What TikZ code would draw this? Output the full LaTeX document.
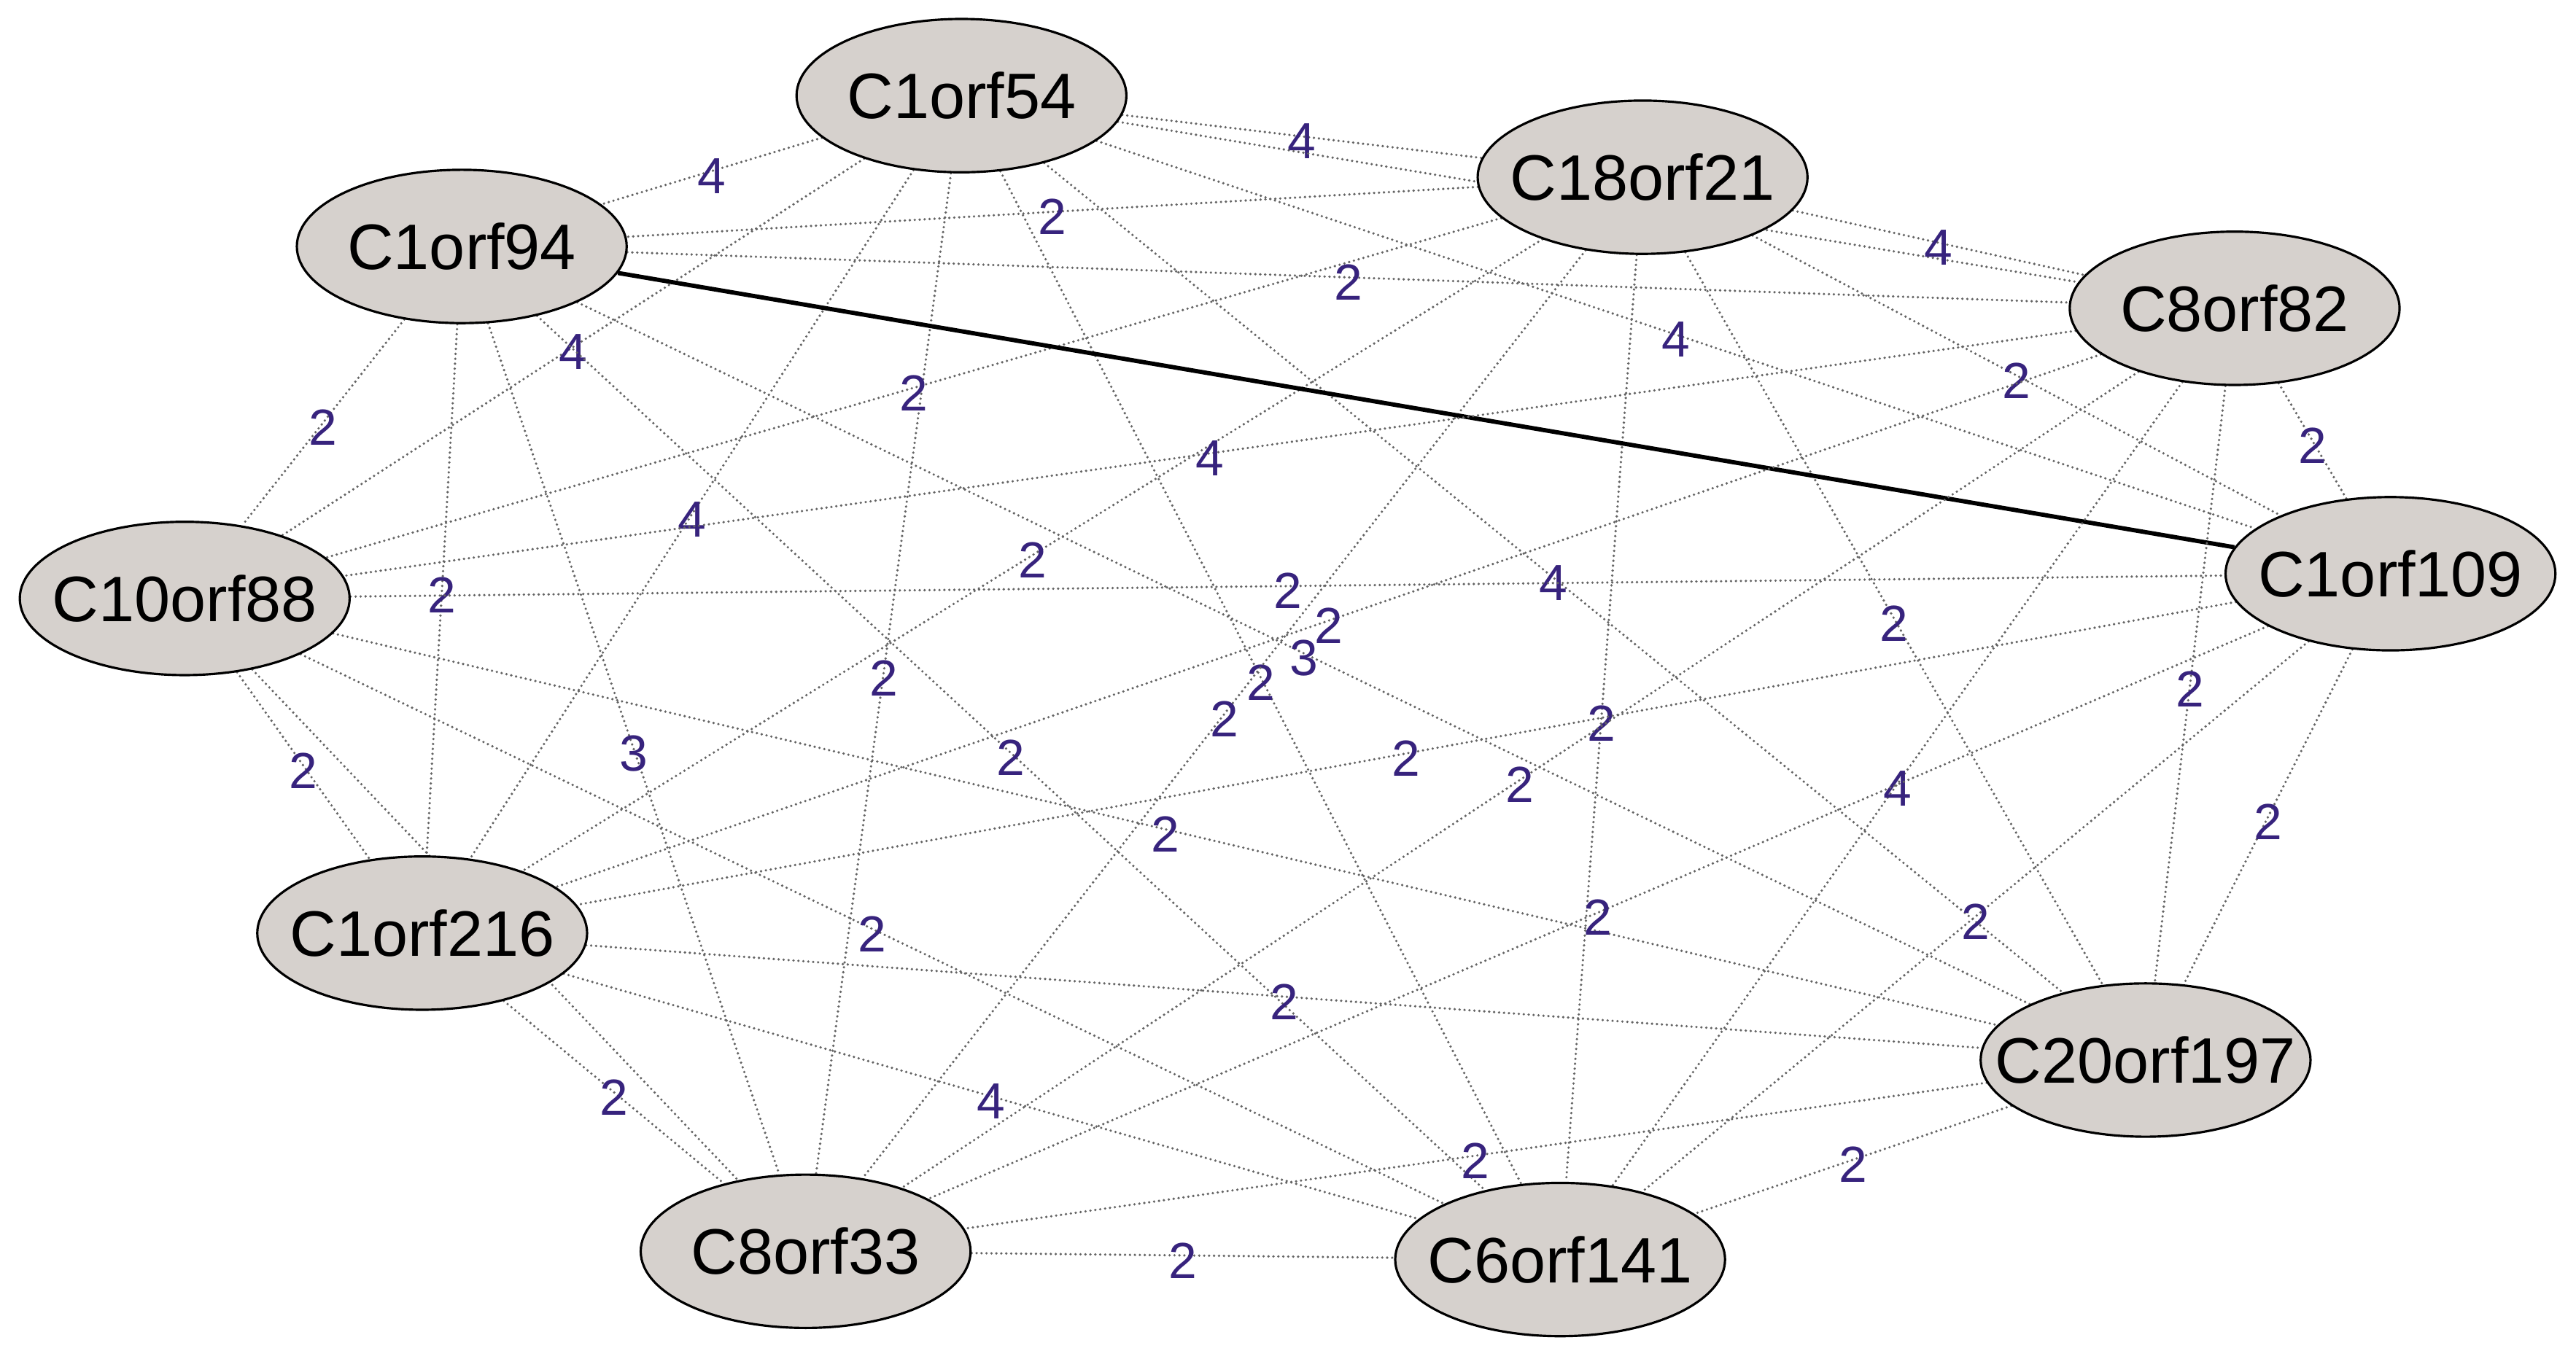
\documentclass[tikz,border=0pt]{standalone}
\usepackage{fontspec}
\setmainfont{Liberation Sans}
\usetikzlibrary{shapes.geometric,backgrounds}
\definecolor{nodefill}{RGB}{214,209,205}
\definecolor{edgegray}{RGB}{100,100,100}
\definecolor{labcol}{RGB}{55,35,125}
\newcommand{\gname}[1]{\makebox[0pt]{#1}}
\tikzset{
  gene/.style={ellipse,draw=black,line width=0.7pt,fill=nodefill,
    minimum width=100pt,minimum height=46.5pt,inner sep=0pt,
    font=\fontsize{19.5}{22}\selectfont},
  edge/.style={draw=edgegray,line width=0.8pt,line cap=round,
    dash pattern=on 0pt off 1.5pt},
  strong/.style={draw=black,line width=1.3pt},
  lab/.style={text=labcol,font=\fontsize{15.4}{17}\selectfont,inner sep=0pt,yshift=-1.5pt}
}
\begin{document}
\begin{tikzpicture}[x=0.5pt,y=-0.5pt]
\useasboundingbox (0,0) rectangle (1562,824);
\node[gene] (A) at (583,58) {\gname{C1orf54}};
\node[gene] (B) at (996,107.5) {\gname{C18orf21}};
\node[gene] (C) at (280,149.5) {\gname{C1orf94}};
\node[gene] (D) at (1355,187) {\gname{C8orf82}};
\node[gene] (E) at (112,363) {\gname{C10orf88}};
\node[gene] (F) at (1449.5,348) {\gname{C1orf109}};
\node[gene] (G) at (256,566) {\gname{C1orf216}};
\node[gene] (H) at (1301,643) {\gname{C20orf197}};
\node[gene] (I) at (488.5,759) {\gname{C8orf33}};
\node[gene] (J) at (946,764) {\gname{C6orf141}};
\begin{pgfonlayer}{background}
\draw[edge] (A) -- node[lab]{4} (B);
\draw[edge] (A) -- node[lab]{4} (C);
\draw[edge] (A) -- (D);
\draw[edge] (A) -- node[lab]{4} (E);
\draw[edge] (A) -- node[lab]{4} (F);
\draw[edge] (A) -- node[lab]{4} (G);
\draw[edge] (A) -- node[lab]{4} (H);
\draw[edge] (A) -- node[lab]{2} (I);
\draw[edge] (A) -- node[lab]{2} (J);
\draw[edge] (B) -- node[lab]{2} (C);
\draw[edge] (B) -- node[lab]{4} (D);
\draw[edge] (B) -- node[lab]{2} (E);
\draw[edge] (B) -- node[lab]{2} (F);
\draw[edge] (B) -- node[lab]{2} (G);
\draw[edge] (B) -- node[lab]{2} (H);
\draw[edge] (B) -- node[lab]{2} (I);
\draw[edge] (B) -- node[lab]{2} (J);
\draw[edge] (C) -- node[lab]{2} (D);
\draw[edge] (C) -- node[lab]{2} (E);
\draw[strong] (C) -- (F);
\draw[edge] (C) -- node[lab]{2} (G);
\draw[edge] (C) -- node[lab]{3} (H);
\draw[edge] (C) -- node[lab]{3} (I);
\draw[edge] (C) -- node[lab]{2} (J);
\draw[edge] (D) -- node[lab]{4} (E);
\draw[edge] (D) -- node[lab]{2} (F);
\draw[edge] (D) -- node[lab]{2} (G);
\draw[edge] (D) -- node[lab]{2} (H);
\draw[edge] (D) -- node[lab]{2} (I);
\draw[edge] (D) -- node[lab]{4} (J);
\draw[edge] (E) -- node[lab]{2} (F);
\draw[edge] (E) -- node[lab]{2} (G);
\draw[edge] (E) -- node[lab]{2} (H);
\draw[edge] (E) -- (I);
\draw[edge] (E) -- node[lab]{2} (J);
\draw[edge] (F) -- node[lab]{2} (G);
\draw[edge] (F) -- node[lab]{2} (H);
\draw[edge] (F) -- node[lab]{2} (I);
\draw[edge] (F) -- node[lab]{2} (J);
\draw[edge] (G) -- node[lab]{2} (H);
\draw[edge] (G) -- node[lab]{2} (I);
\draw[edge] (G) -- node[lab]{4} (J);
\draw[edge] (H) -- node[lab]{2} (I);
\draw[edge] (H) -- node[lab]{2} (J);
\draw[edge] (I) -- node[lab]{2} (J);
\end{pgfonlayer}
\end{tikzpicture}
\end{document}
